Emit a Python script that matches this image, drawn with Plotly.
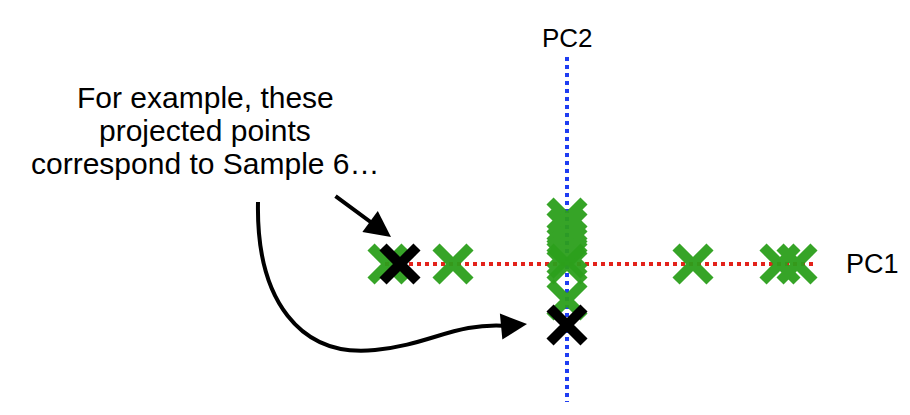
import plotly.graph_objects as go

# PC scores (arbitrary units)
pc1_green = [-17.9, -11.4, 0.0, 12.6, 21.3, 23.0]
pc1_black = [-16.7]
pc2_green = [4.6, 3.6, 2.4, 1.2, 0.6, -3.6]
pc2_black = [-6.1]

text_lines = ["For example, these", "projected points", "correspond to Sample 6\u2026"]
axis_labels = ["PC1", "PC2"]

W, H = 910, 415
PAD = 8            # page body margin
OX, OY = 567, 264  # origin (screen pixel)
S = 10.0           # px per unit

def px(x, y):
    return ((x - OX) / S, (OY - y) / S)

GREEN = "#2ca01c"
BLACK = "#000000"
FONT = "Liberation Sans, Arial, Helvetica, sans-serif"

fig = go.Figure()

x0, _ = px(385, 0); x1, _ = px(815, 0)
_, y0 = px(0, 57); _, y1 = px(0, 402)
fig.add_trace(go.Scatter(x=[x0, x1], y=[0, 0], mode="lines",
                         line=dict(color="#e3221b", width=4, dash="dot"), hoverinfo="skip"))
fig.add_trace(go.Scatter(x=[0, 0], y=[y0, y1], mode="lines",
                         line=dict(color="#1f3df2", width=4, dash="dot"), hoverinfo="skip"))

def mk(color):
    return dict(symbol="x-thin", size=34, color=color, line=dict(width=10, color=color))

fig.add_trace(go.Scatter(x=pc1_green, y=[0]*len(pc1_green), mode="markers",
                         marker=mk(GREEN), opacity=0.95))
fig.add_trace(go.Scatter(x=[0]*len(pc2_green), y=pc2_green, mode="markers",
                         marker=mk(GREEN), opacity=0.95))
fig.add_trace(go.Scatter(x=pc1_black, y=[0]*len(pc1_black), mode="markers", marker=mk(BLACK)))
fig.add_trace(go.Scatter(x=[0]*len(pc2_black), y=pc2_black, mode="markers", marker=mk(BLACK)))

annotations = []
for i, t in enumerate(text_lines):
    ax_, ay_ = px(205, 97 + i * 33)
    annotations.append(dict(x=ax_, y=ay_, text=t, showarrow=False,
                            font=dict(size=30, color="black", family=FONT),
                            xanchor="center", yanchor="middle"))
lx, ly = px(844, 264)
annotations.append(dict(x=lx, y=ly, text=axis_labels[0], showarrow=False,
                        font=dict(size=27, color="black", family=FONT),
                        xanchor="left", yanchor="middle"))
lx, ly = px(567, 38)
annotations.append(dict(x=lx, y=ly, text=axis_labels[1], showarrow=False,
                        font=dict(size=26, color="black", family=FONT),
                        xanchor="center", yanchor="middle"))
hx, hy = px(391, 237)
tx, ty = px(334, 195)
annotations.append(dict(x=hx, y=hy, ax=tx, ay=ty, xref="x", yref="y", axref="x", ayref="y",
                        text="", showarrow=True, arrowhead=2, arrowsize=1.3, arrowwidth=4,
                        arrowcolor="black"))
hx, hy = px(527, 324)
tx, ty = px(506, 326)
annotations.append(dict(x=hx, y=hy, ax=tx, ay=ty, xref="x", yref="y", axref="x", ayref="y",
                        text="", showarrow=True, arrowhead=2, arrowsize=1.3, arrowwidth=4,
                        arrowcolor="black"))

def P(x, y):
    a, b = px(x, y)
    return f"{a:.2f},{b:.2f}"

path = (f"M {P(258,202)} C {P(256,300)} {P(300,358)} {P(375,350)} "
        f"C {P(430,345)} {P(455,322)} {P(508,326)}")
fig.add_shape(type="path", path=path, line=dict(color="black", width=4), xref="x", yref="y")

xr = [(PAD - OX) / S, (PAD + W - OX) / S]
yr = [(OY - PAD - H) / S, (OY - PAD) / S]
fig.update_layout(
    width=W, height=H, margin=dict(l=0, r=0, t=0, b=0),
    paper_bgcolor="white", plot_bgcolor="white", showlegend=False,
    xaxis=dict(range=xr, visible=False, fixedrange=True),
    yaxis=dict(range=yr, visible=False, fixedrange=True),
    annotations=annotations,
)
fig.write_html("out.html")
